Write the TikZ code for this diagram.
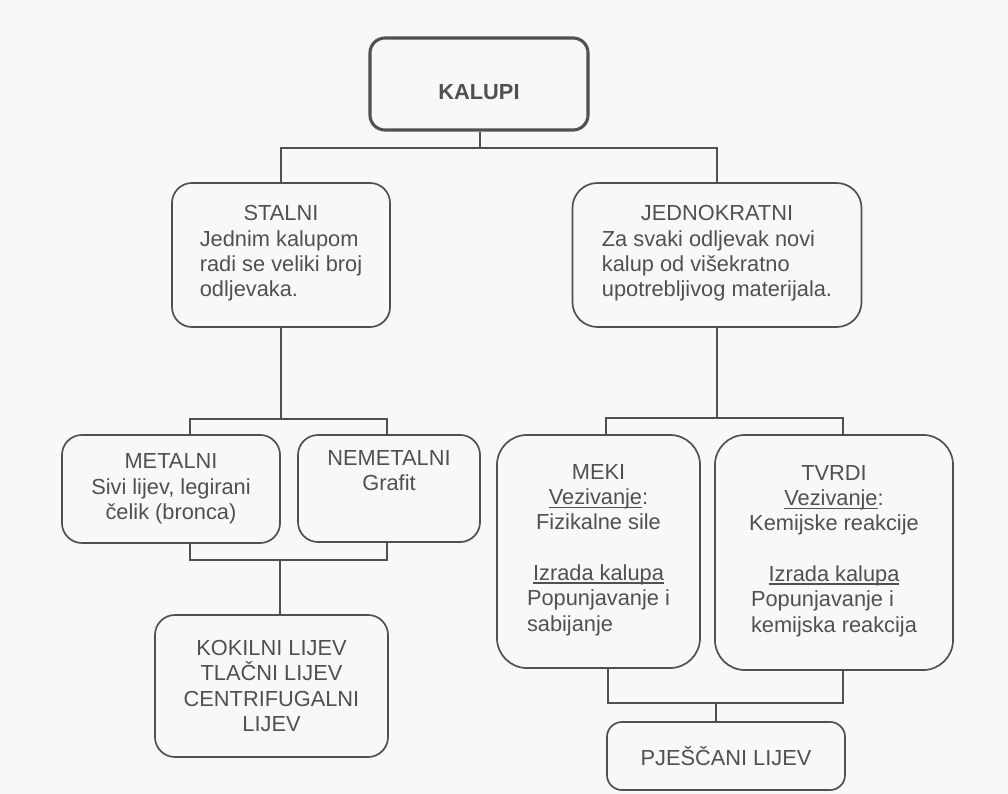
\documentclass[tikz,border=0pt]{standalone}
\usepackage{fontspec}
\setmainfont{Liberation Sans}
\usepackage{xcolor}
\usepackage{tikz}
\usetikzlibrary{calc}
\definecolor{Ink}{HTML}{505050}
\definecolor{Paper}{HTML}{F8F8F8}
\newcommand{\undl}[1]{\setbox0\hbox{#1}\rlap{\rule[-2.2pt]{\wd0}{0.8pt}}\box0}

\begin{document}
\begin{tikzpicture}[x=0.025cm, y=-0.025cm,
  box/.style={draw=Ink, text=Ink, line width=1.2pt, rounded corners=0.5cm, align=center, inner sep=2pt, font=\fontsize{15.5}{18}\selectfont},
  link/.style={draw=Ink, line width=1pt}]%
\fill[Paper] (0,0) rectangle (1008,794);%
\useasboundingbox (0,0) rectangle (1008,794);%
\node[box, line width=2.2pt, rounded corners=0.375cm, minimum width=5.450000cm, minimum height=2.300000cm, text height=22pt, text depth=0pt, font=\fontsize{15.5}{18}\selectfont\bfseries] (kalupi) at (479.000000, 84.000000) {KALUPI};%
\node[box, minimum width=5.450000cm, minimum height=3.600000cm] (stalni) at (281.000000, 255.000000) {STALNI\\\begin{tabular}[t]{@{}l@{}}Jednim kalupom\\radi se veliki broj\\odljevaka.\end{tabular}};%
\node[box, rounded corners=0.625cm, minimum width=7.225000cm, minimum height=3.600000cm] (jednokratni) at (717.000000, 255.000000) {JEDNOKRATNI\\\begin{tabular}[t]{@{}l@{}}Za svaki odljevak novi\\kalup od višekratno\\upotrebljivog materijala.\end{tabular}};%
\node[box, minimum width=5.450000cm, minimum height=2.700000cm] (metalni) at (171.000000, 489.000000) {METALNI\\Sivi lijev, legirani\\čelik (bronca)};%
\node[box, minimum width=4.550000cm, minimum height=2.675000cm, text depth=0.9cm] (nemetalni) at (389.000000, 488.500000) {NEMETALNI\\Grafit};%
\node[box, minimum width=5.825000cm, minimum height=3.550000cm] (kokilni) at (271.500000, 686.000000) {KOKILNI LIJEV\\TLAČNI LIJEV\\CENTRIFUGALNI\\LIJEV};%
\node[box, rounded corners=0.75cm, minimum width=5.075000cm, minimum height=5.825000cm] (meki) at (598.500000, 551.500000) {MEKI\\\undl{Vezivanje}:\\Fizikalne sile\\[18pt]\undl{Izrada kalupa}\\\begin{tabular}[t]{@{}l@{}}Popunjavanje i\\sabijanje\end{tabular}};%
\node[box, rounded corners=0.75cm, minimum width=5.950000cm, minimum height=5.875000cm] (tvrdi) at (834.000000, 552.500000) {TVRDI\\\undl{Vezivanje}:\\Kemijske reakcije\\[18pt]\undl{Izrada kalupa}\\\begin{tabular}[t]{@{}l@{}}Popunjavanje i\\kemijska reakcija\end{tabular}};%
\node[box, rounded corners=0.375cm, minimum width=5.950000cm, minimum height=1.700000cm] (pjescani) at (726.000000, 756.000000) {PJEŠČANI LIJEV};%
% bus points
\coordinate (b1) at (480.000000, 148.000000);%
\coordinate (b2l) at (190.000000, 419.000000);%
\coordinate (b2r) at (387.000000, 419.000000);%
\coordinate (b3l) at (190.000000, 560.000000);%
\coordinate (b3r) at (387.000000, 560.000000);%
\coordinate (b3m) at (280.000000, 560.000000);%
\coordinate (b4l) at (606.000000, 418.000000);%
\coordinate (b4r) at (843.000000, 418.000000);%
\coordinate (b5l) at (608.000000, 703.000000);%
\coordinate (b5r) at (843.000000, 703.000000);%
\coordinate (b5m) at (716.000000, 703.000000);%
% connectors
\draw[link] (kalupi.south -| b1) -- (b1);%
\draw[link] (stalni.north) |- (b1) -| (jednokratni.north);%
\draw[link] (stalni.south) -- (stalni.south |- b2l);%
\draw[link] (b2l |- metalni.north) -- (b2l) -- (b2r) -- (b2r |- nemetalni.north);%
\draw[link] (b3l |- metalni.south) -- (b3l) -- (b3r) -- (b3r |- nemetalni.south);%
\draw[link] (b3m) -- (b3m |- kokilni.north);%
\draw[link] (jednokratni.south) -- (jednokratni.south |- b4l);%
\draw[link] (b4l |- meki.north) -- (b4l) -- (b4r) -- (b4r |- tvrdi.north);%
\draw[link] (b5l |- meki.south) -- (b5l) -- (b5r) -- (b5r |- tvrdi.south);%
\draw[link] (b5m) -- (b5m |- pjescani.north);%
\end{tikzpicture}
\end{document}
